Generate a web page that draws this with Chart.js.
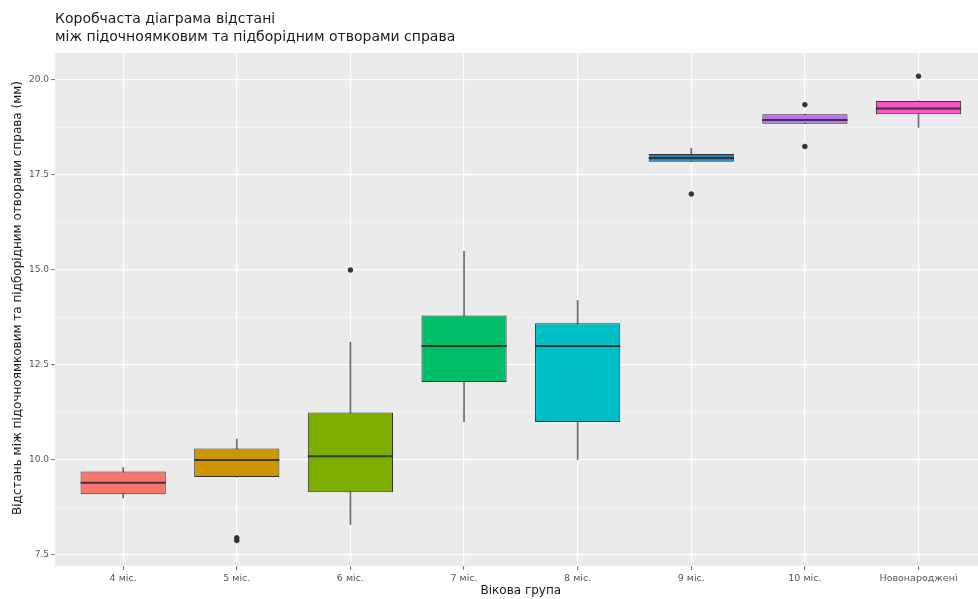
<!DOCTYPE html>
<html>
<head>
<meta charset="utf-8">
<script src="https://cdn.jsdelivr.net/npm/chart.js@4.4.1/dist/chart.umd.min.js"></script>
<style>
  html, body { margin: 0; padding: 0; background: #fff; overflow: hidden; }
  #wrap { position: relative; width: 990px; height: 599px; }
</style>
</head>
<body>
<div id="wrap"><canvas id="c" width="990" height="599"></canvas></div>
<script>
// Age groups and box statistics (mm)
const categories  = ['4 міс.', '5 міс.', '6 міс.', '7 міс.', '8 міс.', '9 міс.', '10 міс.', 'Новонароджені'];
const whiskerLow  = [9.0, 9.55, 8.3, 11.0, 10.0, 17.85, 18.85, 18.75];
const quartile1   = [9.1, 9.55, 9.15, 12.05, 11.0, 17.85, 18.85, 19.1];
const medians     = [9.4, 10.0, 10.1, 13.0, 13.0, 17.95, 18.95, 19.25];
const quartile3   = [9.7, 10.3, 11.25, 13.8, 13.6, 18.05, 19.1, 19.45];
const whiskerHigh = [9.8, 10.55, 13.1, 15.5, 14.2, 18.2, 19.1, 19.45];

// Outliers: group position (1-based) and value
const outlierGroup = [2, 2, 3, 6, 7, 7, 8];
const outlierValue = [7.88, 7.95, 15.0, 17.0, 19.35, 18.25, 20.1];

const boxColors = ['#F8766D', '#CD9600', '#7CAE00', '#00BE67', '#00BFC4', '#1886C2', '#BE6EF5', '#F855C8'];
const yTicks = [7.5, 8.75, 10, 11.25, 12.5, 13.75, 15, 16.25, 17.5, 18.75, 20];

const titleLines = ['Коробчаста діаграма відстані', 'між підочноямковим та підборідним отворами справа'];
const yTitle = 'Відстань між підочноямковим та підборідним отворами справа (мм)';
const xTitle = 'Вікова група';

const positions = categories.map((_, i) => i + 1);
const isMajor = v => Math.abs(v / 2.5 - Math.round(v / 2.5)) < 1e-6;
const FONT = "'DejaVu Sans', 'Liberation Sans', sans-serif";

// grey panel behind the grid
const panelPlugin = {
  id: 'panel',
  beforeDraw(chart) {
    const { ctx, chartArea: a } = chart;
    ctx.save();
    ctx.fillStyle = '#EBEBEB';
    ctx.fillRect(a.left, a.top, a.right - a.left, a.bottom - a.top);
    ctx.restore();
  }
};

// median line across each box
const medianPlugin = {
  id: 'medians',
  afterDatasetsDraw(chart) {
    const meta = chart.getDatasetMeta(1);
    const ys = chart.scales.y;
    const c = chart.ctx;
    c.save();
    c.strokeStyle = 'rgba(40,40,40,0.85)';
    c.lineWidth = 2;
    meta.data.forEach((bar, i) => {
      const py = ys.getPixelForValue(medians[i]);
      c.beginPath();
      c.moveTo(bar.x - bar.width / 2, py);
      c.lineTo(bar.x + bar.width / 2, py);
      c.stroke();
    });
    c.restore();
  }
};

// two-line title at the panel's left edge, and the rotated y-axis title
const titlePlugin = {
  id: 'titles',
  afterDraw(chart) {
    const c = chart.ctx;
    c.save();
    c.fillStyle = '#1a1a1a';
    c.font = `14px ${FONT}`;
    c.textBaseline = 'middle';
    c.textAlign = 'left';
    c.fillText(titleLines[0], chart.chartArea.left, 19);
    c.fillText(titleLines[1], chart.chartArea.left, 37);

    c.font = `12px ${FONT}`;
    c.textAlign = 'center';
    c.translate(18, 298);
    c.rotate(-Math.PI / 2);
    c.fillText(yTitle, 0, 0);
    c.restore();
  }
};

new Chart(document.getElementById('c'), {
  type: 'bar',
  data: {
    datasets: [
      {
        label: 'whiskers',
        data: positions.map((x, i) => ({ x, y: [whiskerLow[i], whiskerHigh[i]] })),
        backgroundColor: '#6a6a6a',
        barThickness: 1,
        grouped: false,
        order: 2
      },
      {
        label: 'boxes',
        data: positions.map((x, i) => ({ x, y: [quartile1[i], quartile3[i]] })),
        backgroundColor: boxColors,
        borderColor: '#333333',
        borderWidth: 1,
        borderSkipped: false,
        categoryPercentage: 1,
        barPercentage: 0.75,
        grouped: false,
        order: 1
      },
      {
        type: 'scatter',
        label: 'outliers',
        data: outlierGroup.map((g, i) => ({ x: g, y: outlierValue[i] })),
        backgroundColor: '#333333',
        borderColor: '#333333',
        pointRadius: 2.3,
        pointHoverRadius: 2.3,
        order: 0
      }
    ]
  },
  options: {
    responsive: false,
    animation: false,
    devicePixelRatio: 1,
    layout: { padding: { left: 0, top: 53, right: 3, bottom: 0 } },
    plugins: { legend: { display: false }, tooltip: { enabled: false }, title: { display: false } },
    scales: {
      x: {
        type: 'linear',
        offset: false,
        min: 0.4,
        max: 8.6,
        afterBuildTicks: s => { s.ticks = positions.map(v => ({ value: v })); },
        afterFit: s => { s.height = 33; },
        border: { display: false },
        grid: { offset: false, color: '#ffffff', lineWidth: 1.2, tickLength: 4, tickColor: '#777777', tickWidth: 1 },
        ticks: {
          callback: v => categories[Math.round(v) - 1] ?? '',
          autoSkip: false, maxRotation: 0, padding: 3,
          color: '#555555', font: { size: 9.5, family: FONT }
        },
        title: {
          display: true, text: xTitle, color: '#1a1a1a',
          font: { size: 12, family: FONT }, padding: { top: 0, bottom: 1 }
        }
      },
      y: {
        min: 7.21,
        max: 20.71,
        afterBuildTicks: s => { s.ticks = yTicks.map(v => ({ value: v })); },
        afterFit: s => { s.width = 55; },
        border: { display: false },
        grid: {
          color: c => isMajor(c.tick.value) ? '#ffffff' : 'rgba(255,255,255,0.75)',
          lineWidth: c => isMajor(c.tick.value) ? 1.2 : 0.6,
          tickLength: 4,
          tickColor: c => isMajor(c.tick.value) ? '#777777' : 'rgba(0,0,0,0)',
          tickWidth: 1
        },
        ticks: {
          callback: v => isMajor(v) ? v.toFixed(1) : '',
          autoSkip: false, padding: 2,
          color: '#555555', font: { size: 9, family: FONT }
        },
        title: { display: false }
      }
    }
  },
  plugins: [panelPlugin, medianPlugin, titlePlugin]
});
</script>
</body>
</html>
